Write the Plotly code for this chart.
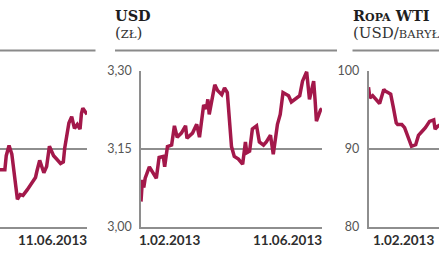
import plotly.graph_objects as go
import pandas as pd

START = pd.Timestamp("2013-02-01")

# Left panel (EUR, only the right part is visible) - days since 1.02.2013
eur_day = [66, 71, 72, 74, 76, 78, 80, 82, 84, 87, 90, 93, 94, 96, 99, 101, 103, 106, 108, 111,
           113, 114, 117, 119, 121, 123, 125, 126, 127, 130]
eur_val = [4.173, 4.173, 4.191, 4.204, 4.193, 4.167, 4.135, 4.141, 4.140, 4.147,
           4.155, 4.163, 4.171, 4.185, 4.169, 4.177, 4.203, 4.191, 4.187, 4.181,
           4.183, 4.201, 4.233, 4.241, 4.226, 4.231, 4.225, 4.245, 4.252, 4.244]
eur_ticks = [4.10, 4.20, 4.30]

# Middle panel: USD (zł)
usd_day = [0, 1, 2, 3, 6, 9, 11, 13, 16, 17, 19, 22, 24, 26, 29, 32, 33, 37, 40, 42,
           45, 47, 48, 49, 51, 53, 55, 58, 60, 62, 65, 67, 70, 73, 75, 76, 78, 80, 83, 85,
           88, 90, 93, 95, 98, 100, 102, 106, 108, 112, 114, 116, 119, 121, 124, 125, 126, 129, 130]
usd_val = [3.048, 3.090, 3.075, 3.093, 3.115, 3.100, 3.093, 3.133, 3.135, 3.115,
           3.154, 3.157, 3.194, 3.172, 3.180, 3.194, 3.170, 3.180, 3.197, 3.172,
           3.234, 3.227, 3.245, 3.216, 3.249, 3.273, 3.262, 3.254, 3.267, 3.258,
           3.154, 3.135, 3.130, 3.120, 3.163, 3.142, 3.145, 3.188, 3.194, 3.163,
           3.157, 3.163, 3.176, 3.139, 3.197, 3.216, 3.258, 3.252, 3.240, 3.249,
           3.252, 3.280, 3.298, 3.245, 3.280, 3.245, 3.203, 3.225, 3.227]
usd_ticks = [3.00, 3.15, 3.30]
usd_ticktext = ["3,00", "3,15", "3,30"]

# Right panel: Ropa WTI (USD/baryłka), only the left part is visible
wti_day = [0, 1, 3, 5, 8, 11, 12, 14, 16, 18, 20, 21, 24, 26, 29, 31, 34, 36, 39, 41,
           44, 47, 48, 50, 53]
wti_val = [97.9, 96.5, 96.8, 96.4, 95.8, 97.6, 97.4, 97.2, 97.0, 95.2,
           93.3, 93.1, 93.1, 92.7, 91.3, 90.3, 90.5, 91.7, 92.3, 92.7,
           93.5, 93.7, 92.5, 92.9, 93.2]
wti_ticks = [80, 90, 100]
wti_ticktext = ["80", "90", "100"]

date_labels = ["1.02.2013", "11.06.2013"]


def to_dates(days):
    return [START + pd.Timedelta(days=d) for d in days]


W, H = 439, 268
LINE = "#a3184a"
GRID = "#8e8e8e"
SANS = "Lato, sans-serif"

fig = go.Figure()
fig.add_trace(go.Scatter(x=to_dates(eur_day), y=eur_val, mode="lines",
                         line=dict(color=LINE, width=3.5), xaxis="x", yaxis="y"))
fig.add_trace(go.Scatter(x=to_dates(usd_day), y=usd_val, mode="lines",
                         line=dict(color=LINE, width=3.5), xaxis="x2", yaxis="y2"))
fig.add_trace(go.Scatter(x=to_dates(wti_day), y=wti_val, mode="lines",
                         line=dict(color=LINE, width=3.5), xaxis="x3", yaxis="y3"))

ydom = [1 - 231.5 / H, 1 - 66.5 / H]


def xax(dom, r0, r1, anchor):
    return dict(domain=dom, range=[START + pd.Timedelta(days=r0), START + pd.Timedelta(days=r1)],
                type="date", showgrid=False, zeroline=False, showticklabels=False, ticks="",
                showline=True, linecolor=GRID, linewidth=1.5, anchor=anchor, fixedrange=True)


def yax(vals, text, anchor, showline=True, showlabels=True):
    return dict(domain=ydom, range=[vals[0], vals[-1]], tickvals=vals, ticktext=text,
                showgrid=True, gridcolor=GRID, gridwidth=1.5, zeroline=False,
                showline=showline, linecolor=GRID, linewidth=1.5, ticks="",
                showticklabels=showlabels, ticklabelstandoff=5,
                tickfont=dict(family=SANS, size=12.5, color="#555555"),
                anchor=anchor, fixedrange=True)


fig.update_layout(
    width=W, height=H, margin=dict(l=0, r=0, t=0, b=0),
    paper_bgcolor="white", plot_bgcolor="white", showlegend=False,
    xaxis=xax([0, 87 / W], 67.5, 130, "y"),
    yaxis=yax(eur_ticks, [str(v) for v in eur_ticks], "x", showline=False, showlabels=False),
    xaxis2=xax([141 / W, 322 / W], 0, 130, "y2"),
    yaxis2=yax(usd_ticks, usd_ticktext, "x2"),
    xaxis3=xax([368.5 / W, 1], 0, 50.8, "y3"),
    yaxis3=yax(wti_ticks, wti_ticktext, "x3"),
)

# separators under titles
for x0, x1 in [(0, 95.5), (115, 337), (352.5, W)]:
    fig.add_shape(type="line", xref="paper", yref="paper", x0=x0 / W, x1=x1 / W,
                  y0=1 - 45 / H, y1=1 - 45 / H, line=dict(color="#8a8a8a", width=2))

serif = "DejaVu Serif"
title_font = dict(family=serif, size=14.5, color="#1e1e1e")
sub_font = dict(family=serif, size=15, color="#333333")

fig.add_annotation(text="<b>USD</b>", xref="paper", yref="paper", x=113 / W, y=1 - 7.5 / H,
                   xanchor="left", yanchor="middle", showarrow=False, font=title_font)
fig.add_annotation(text="(<span style='font-size:11.5px'>ZŁ</span>)", xref="paper", yref="paper",
                   x=113 / W, y=1 - 26 / H, xanchor="left", yanchor="middle", showarrow=False,
                   font=sub_font)
fig.add_annotation(text="<b>R<span style='font-size:11px'>OPA</span> WTI</b>", xref="paper",
                   yref="paper", x=351 / W, y=1 - 7.5 / H, xanchor="left", yanchor="middle",
                   showarrow=False, font=title_font)
fig.add_annotation(text="(USD/<span style='font-size:11.5px'>BARYŁKA</span>)", xref="paper",
                   yref="paper", x=351 / W, y=1 - 26 / H, xanchor="left", yanchor="middle",
                   showarrow=False, font=sub_font)

date_font = dict(family=SANS, size=13.5, color="#2e2e2e")
yd = 1 - 245.5 / H
fig.add_annotation(text="<b>%s</b>" % date_labels[1], xref="x", yref="paper",
                   x=START + pd.Timedelta(days=130), y=yd, xanchor="right", yanchor="middle",
                   showarrow=False, font=date_font, xshift=2)
fig.add_annotation(text="<b>%s</b>" % date_labels[0], xref="x2", yref="paper",
                   x=START, y=yd, xanchor="left", yanchor="middle",
                   showarrow=False, font=date_font, xshift=-4)
fig.add_annotation(text="<b>%s</b>" % date_labels[1], xref="x2", yref="paper",
                   x=START + pd.Timedelta(days=130), y=yd, xanchor="right", yanchor="middle",
                   showarrow=False, font=date_font, xshift=2)
fig.add_annotation(text="<b>%s</b>" % date_labels[0], xref="x3", yref="paper",
                   x=START, y=yd, xanchor="left", yanchor="middle",
                   showarrow=False, font=date_font, xshift=2)

fig.write_html("out.html", config={"displayModeBar": False})
